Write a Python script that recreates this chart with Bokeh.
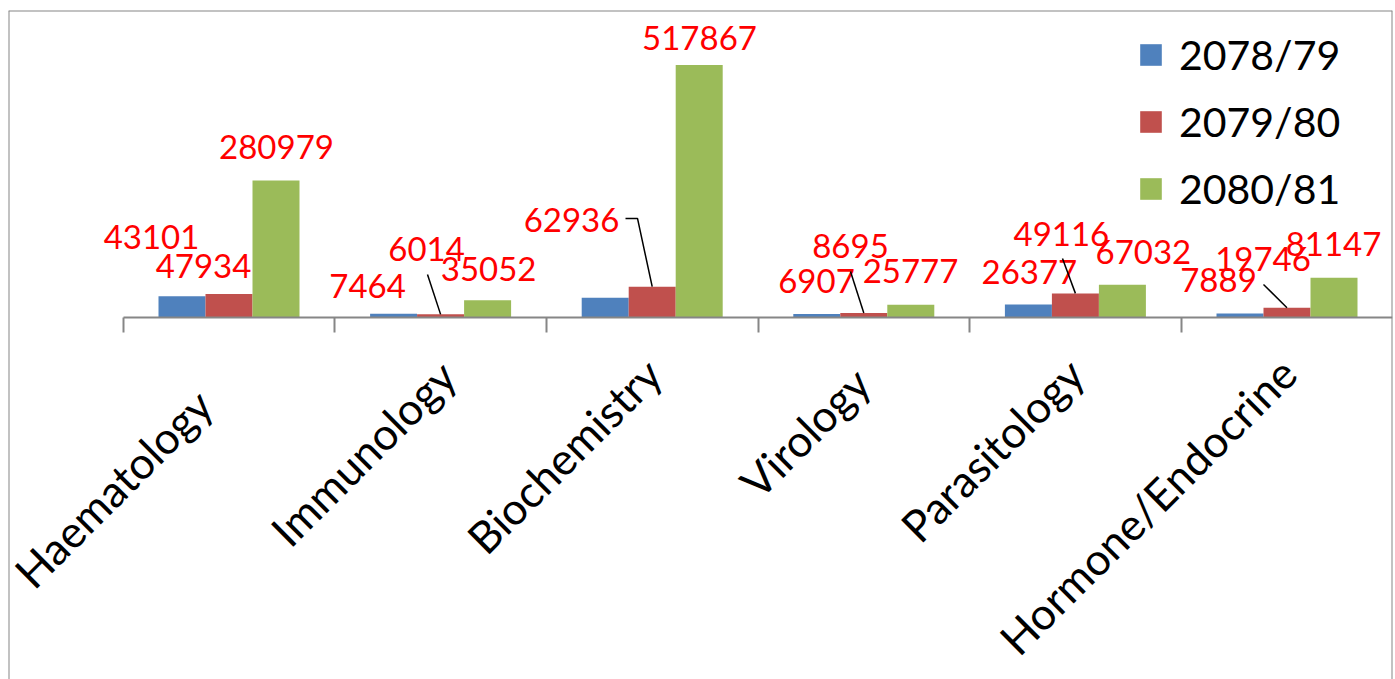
import math
from bokeh.plotting import figure
from bokeh.models import (ColumnDataSource, Range1d, LinearAxis, FixedTicker,
                          Legend, LegendItem, Span)
from bokeh.transform import dodge
from bokeh.core.properties import value
from bokeh.embed import file_html
from bokeh.resources import INLINE

# ---------------- data ----------------
categories = ["Haematology", "Immunology", "Biochemistry", "Virology",
              "Parasitology", "Hormone/Endocrine"]
series = ["2078/79", "2079/80", "2080/81"]
values_2078_79 = [43101, 7464, 40000, 6907, 26377, 7889]
values_2079_80 = [47934, 6014, 62936, 8695, 49116, 19746]
values_2080_81 = [280979, 35052, 517867, 25777, 67032, 81147]
labels_2078_79 = ["43101", "7464", "", "6907", "26377", "7889"]
labels_2079_80 = ["47934", "6014", "62936", "8695", "49116", "19746"]
labels_2080_81 = ["280979", "35052", "517867", "25777", "67032", "81147"]
colors = ["#4F81BD", "#C0504D", "#9BBB59"]

# ---------------- layout (pixels) ----------------
W, H = 1395, 679
BL, BT, BR, BB = 8, 10, 3, 0          # borders around the frame
FW, FH = W - BL - BR, H - BT - BB     # frame size
PX_PER_CAT = 211.6
PX_PER_UNIT = 0.000487
ZERO_PY = 306.8          # zero line, px from top of frame
FIRST_CENTER_PX = 220.5  # first category centre, px from left of frame
x_start = -FIRST_CENTER_PX / PX_PER_CAT
x_end = (FW - FIRST_CENTER_PX) / PX_PER_CAT
y_end = ZERO_PY / PX_PER_UNIT
y_start = -(FH - ZERO_PY) / PX_PER_UNIT
BAR_W = 47.0 / PX_PER_CAT
offsets = [-BAR_W, 0.0, BAR_W]

# data-label offsets (px) from the top centre of each bar
label_dx = [[-30.5, -26, 0, -0.3, 1, -21.5],
            [-25.5, -14, -80.7, -13.3, -14, -24],
            [0.5, 1, 0.3, -0.3, 21, -0.5]]
label_dy = [[-59.8, -27.7, 0, -33.4, -32.5, -33.5],
            [-28, -65.4, -66.2, -66.6, -59.4, -48.7],
            [-33, -31.7, -26.6, -33.7, -32.7, -33.3]]
# leader lines: (series, category, points in px relative to bar top)
leaders = [(1, 1, [(-13.1, -39.9), (0, 0)]),
           (1, 2, [(-26.7, -68.2), (-14.7, -68.2), (0, 0)]),
           (1, 3, [(-13.3, -41.6), (0, 0)]),
           (1, 4, [(-12.9, -34.9), (0, 0)]),
           (1, 5, [(-23.5, -23.2), (0, 0)])]
# category-label anchor offsets (px) from the axis point under each category
cat_dx = [-25, 7, 1, -2, 0, 1]
cat_dy = [80, 51, 49, 58, 49, 48]

FONT = "Lato"
GRAY = "#868686"

src = ColumnDataSource(dict(
    idx=list(range(len(categories))),
    s0=values_2078_79, s1=values_2079_80, s2=values_2080_81,
    l0=labels_2078_79, l1=labels_2079_80, l2=labels_2080_81,
    dx0=label_dx[0], dx1=label_dx[1], dx2=label_dx[2],
    dy0=label_dy[0], dy1=label_dy[1], dy2=label_dy[2],
))
cat_src = ColumnDataSource(dict(idx=list(range(len(categories))),
                                zero=[0] * len(categories),
                                name=categories, dx=cat_dx, dy=cat_dy))

p = figure(width=W, height=H, output_backend="svg", toolbar_location=None,
           x_range=Range1d(x_start, x_end), y_range=Range1d(y_start, y_end),
           x_axis_location=None, y_axis_location=None,
           min_border_left=BL, min_border_top=BT, min_border_right=BR,
           min_border_bottom=BB)
p.outline_line_color = None
p.background_fill_color = "white"
p.border_fill_color = "white"
p.grid.visible = False

# chart border (left, top, right; the bottom edge lies outside the picture)
p.add_layout(Span(location=x_start, dimension="height", line_color=GRAY, line_width=2))
p.add_layout(Span(location=x_end, dimension="height", line_color=GRAY, line_width=2))
p.add_layout(Span(location=y_end, dimension="width", line_color=GRAY, line_width=2))

renderers = []
for k in range(3):
    r = p.vbar(x=dodge("idx", offsets[k]), top=f"s{k}", width=BAR_W,
               bottom=0, source=src, fill_color=colors[k], line_color=None)
    renderers.append(r)

for k in range(3):
    p.text(x=dodge("idx", offsets[k]), y=f"s{k}", text=f"l{k}",
           x_offset=f"dx{k}", y_offset=f"dy{k}", source=src,
           text_font=value(FONT), text_font_size="33px", text_color="#FF0000",
           text_align="center", text_baseline="middle")

all_vals = [values_2078_79, values_2079_80, values_2080_81]
lx, ly = [], []
for s, c, pts in leaders:
    bx = c + offsets[s]
    by = all_vals[s][c]
    lx.append([bx + dx / PX_PER_CAT for dx, dy in pts])
    ly.append([by - dy / PX_PER_UNIT for dx, dy in pts])
p.multi_line(xs=lx, ys=ly, line_color="black", line_width=1.5)

# category axis: line with tick marks between categories
bounds = [-0.5 + i for i in range(len(categories) + 1)]
sep_axis = LinearAxis(ticker=FixedTicker(ticks=bounds, minor_ticks=[]),
                      fixed_location=0, bounds=(bounds[0], bounds[-1]))
sep_axis.major_label_overrides = {b: "" for b in bounds}
sep_axis.axis_line_color = GRAY
sep_axis.axis_line_width = 2
sep_axis.major_tick_line_color = GRAY
sep_axis.major_tick_line_width = 2
sep_axis.major_tick_out = 15
sep_axis.major_tick_in = 0
sep_axis.minor_tick_line_color = None
p.add_layout(sep_axis, "below")

# rotated category names under each category
p.text(x="idx", y="zero", text="name", x_offset="dx", y_offset="dy",
       source=cat_src, angle=math.pi / 4, text_font=value(FONT),
       text_font_size="44px", text_color="black",
       text_align="right", text_baseline="middle")

legend = Legend(items=[LegendItem(label=series[k], renderers=[renderers[k]]) for k in range(3)],
                location=(1129, 466))
legend.glyph_width = 27
legend.glyph_height = 27
legend.label_standoff = 15
legend.spacing = 18
legend.padding = 0
legend.margin = 0
legend.border_line_color = None
legend.background_fill_alpha = 0
legend.label_text_font = FONT
legend.label_text_font_size = "41px"
legend.label_text_color = "black"
p.add_layout(legend)

open("out.html", "w").write(file_html(p, INLINE))
